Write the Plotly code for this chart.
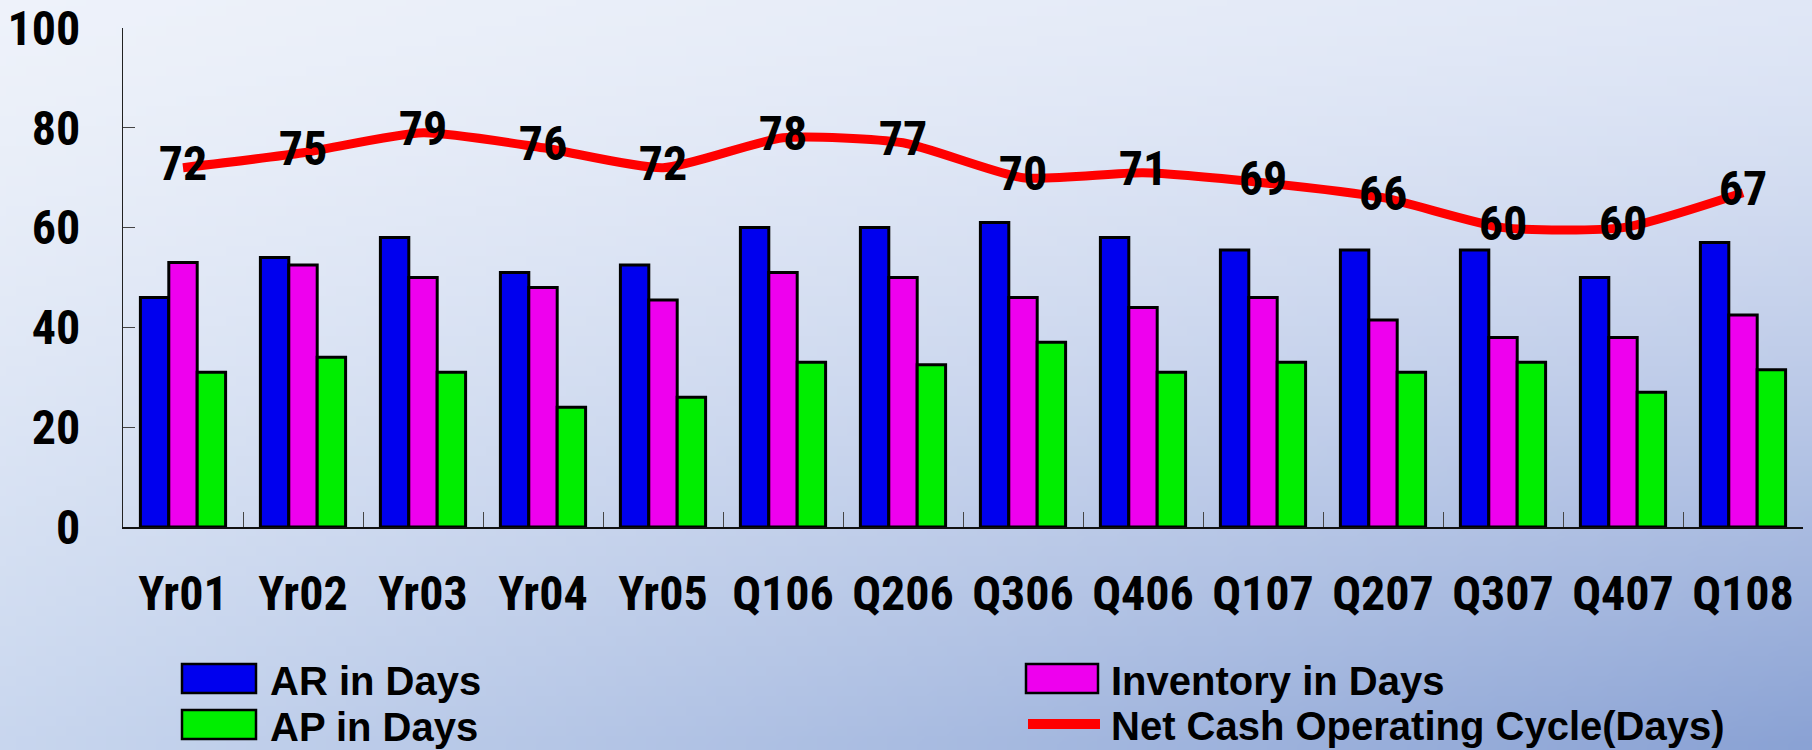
import base64
import struct
import zlib

import plotly.graph_objects as go

# ---------------- data ----------------
categories = ["Yr01", "Yr02", "Yr03", "Yr04", "Yr05", "Q106", "Q206",
              "Q306", "Q406", "Q107", "Q207", "Q307", "Q407", "Q108"]
ar_days = [46, 54, 58, 51, 52.5, 60, 60, 61, 58, 55.5, 55.5, 55.5, 50, 57]
inventory_days = [53, 52.5, 50, 48, 45.5, 51, 50, 46, 44, 46, 41.5, 38, 38, 42.5]
ap_days = [31, 34, 31, 24, 26, 33, 32.5, 37, 31, 33, 31, 33, 27, 31.5]
net_cycle = [72, 75, 79, 76, 72, 78, 77, 70, 71, 69, 66, 60, 60, 67]
y_ticks = [0, 20, 40, 60, 80, 100]

series_names = ["AR in Days", "Inventory in Days", "AP in Days",
                "Net Cash Operating Cycle(Days)"]

# ---------------- styling ----------------
W, H = 1812, 750
ML, MR, MT, MB = 123, 9, 28, 223
PW, PH = W - ML - MR, H - MT - MB

NARROW = "Liberation Sans Narrow, Arial Narrow, Roboto Condensed, DejaVu Sans Condensed, Liberation Sans, sans-serif"
WIDE = "Liberation Sans, Arial, sans-serif"

C_AR = "#0000EE"
C_INV = "#EE00EE"
C_AP = "#00EE00"
C_NET = "#FF0000"


def px(x):
    return (x - ML) / PW


def py(y):
    return (H - MB - y) / PH


# ---------------- background gradient image ----------------
def gradient_png(w, h):
    tl, tr = (238, 242, 250), (224, 231, 246)
    bl, br = (200, 214, 238), (138, 162, 212)
    rows = []
    for j in range(h):
        v = j / (h - 1)
        row = bytearray([0])
        for i in range(w):
            u = i / (w - 1)
            for k in range(3):
                top = tl[k] * (1 - u) + tr[k] * u
                bot = bl[k] * (1 - u) + br[k] * u
                vv = v ** 1.3
                row.append(int(round(top * (1 - vv) + bot * vv)))
        rows.append(bytes(row))
    raw = b"".join(rows)

    def chunk(tag, data):
        c = struct.pack(">I", len(data)) + tag + data
        return c + struct.pack(">I", zlib.crc32(tag + data) & 0xffffffff)

    png = b"\x89PNG\r\n\x1a\n"
    png += chunk(b"IHDR", struct.pack(">IIBBBBB", w, h, 8, 2, 0, 0, 0))
    png += chunk(b"IDAT", zlib.compress(raw, 9))
    png += chunk(b"IEND", b"")
    return "data:image/png;base64," + base64.b64encode(png).decode()


bg_src = gradient_png(181, 75)

# ---------------- figure ----------------
fig = go.Figure()
bar_line = dict(color="black", width=3)
fig.add_bar(x=categories, y=ar_days, name=series_names[0],
            marker=dict(color=C_AR, line=bar_line))
fig.add_bar(x=categories, y=inventory_days, name=series_names[1],
            marker=dict(color=C_INV, line=bar_line))
fig.add_bar(x=categories, y=ap_days, name=series_names[2],
            marker=dict(color=C_AP, line=bar_line))
fig.add_scatter(x=categories, y=net_cycle, name=series_names[3],
                mode="lines+text", text=[str(v) for v in net_cycle],
                textposition="middle center",
                textfont=dict(family=NARROW, size=48, color="black", weight="bold"),
                line=dict(color=C_NET, width=9, shape="spline", smoothing=0.6),
                cliponaxis=False)

tick_font = dict(family=NARROW, size=48, color="black", weight="bold")

fig.update_layout(
    width=W, height=H,
    margin=dict(l=ML, r=MR, t=MT, b=MB, pad=0, autoexpand=False),
    paper_bgcolor="rgba(0,0,0,0)",
    plot_bgcolor="rgba(0,0,0,0)",
    showlegend=False,
    barmode="group", bargap=0.29, bargroupgap=0,
    xaxis=dict(type="category", range=[-0.5, len(categories) - 0.5],
               automargin=False,
               tickson="boundaries", ticks="inside", ticklen=15,
               tickcolor="#444", tickwidth=1,
               showline=True, linecolor="#111", linewidth=1.5,
               showgrid=False, zeroline=False, ticklabeloverflow="allow",
               tickfont=tick_font, ticklabelstandoff=24),
    yaxis=dict(range=[0, 100], tickvals=y_ticks, automargin=False,
               ticks="inside", ticklen=12, tickcolor="#444", tickwidth=1,
               showline=True, linecolor="#222", linewidth=1.2,
               showgrid=False, zeroline=False, ticklabeloverflow="allow",
               tickfont=tick_font, ticklabelstandoff=32),
    images=[dict(source=bg_src, xref="paper", yref="paper",
                 x=px(0), y=py(0), sizex=px(W) - px(0), sizey=py(0) - py(H),
                 xanchor="left", yanchor="top", sizing="stretch",
                 layer="below")],
)

# ---------------- manual legend ----------------
legend_font = dict(family=WIDE, size=40, color="black", weight="bold")
swatches = [
    (series_names[0], C_AR, 182, 256, 664, 693, 268),
    (series_names[2], C_AP, 182, 256, 710, 739, 268),
    (series_names[1], C_INV, 1026, 1098, 664, 693, 1109),
]
for name, col, x0, x1, y0, y1, tx in swatches:
    fig.add_shape(type="rect", xref="paper", yref="paper",
                  x0=px(x0), x1=px(x1), y0=py(y1), y1=py(y0),
                  fillcolor=col, line=dict(color="black", width=2.5))
    fig.add_annotation(xref="paper", yref="paper", x=px(tx), y=py((y0 + y1) / 2 + 2),
                       xanchor="left", yanchor="middle", showarrow=False,
                       text=name, font=legend_font)

fig.add_shape(type="line", xref="paper", yref="paper",
              x0=px(1028), x1=px(1100), y0=py(724), y1=py(724),
              line=dict(color=C_NET, width=10))
fig.add_annotation(xref="paper", yref="paper", x=px(1109), y=py(726),
                   xanchor="left", yanchor="middle", showarrow=False,
                   text=series_names[3], font=legend_font)

fig.write_html("out.html", config={"displayModeBar": False},
               post_script="document.body.style.margin='0';document.body.style.overflow='hidden';")
